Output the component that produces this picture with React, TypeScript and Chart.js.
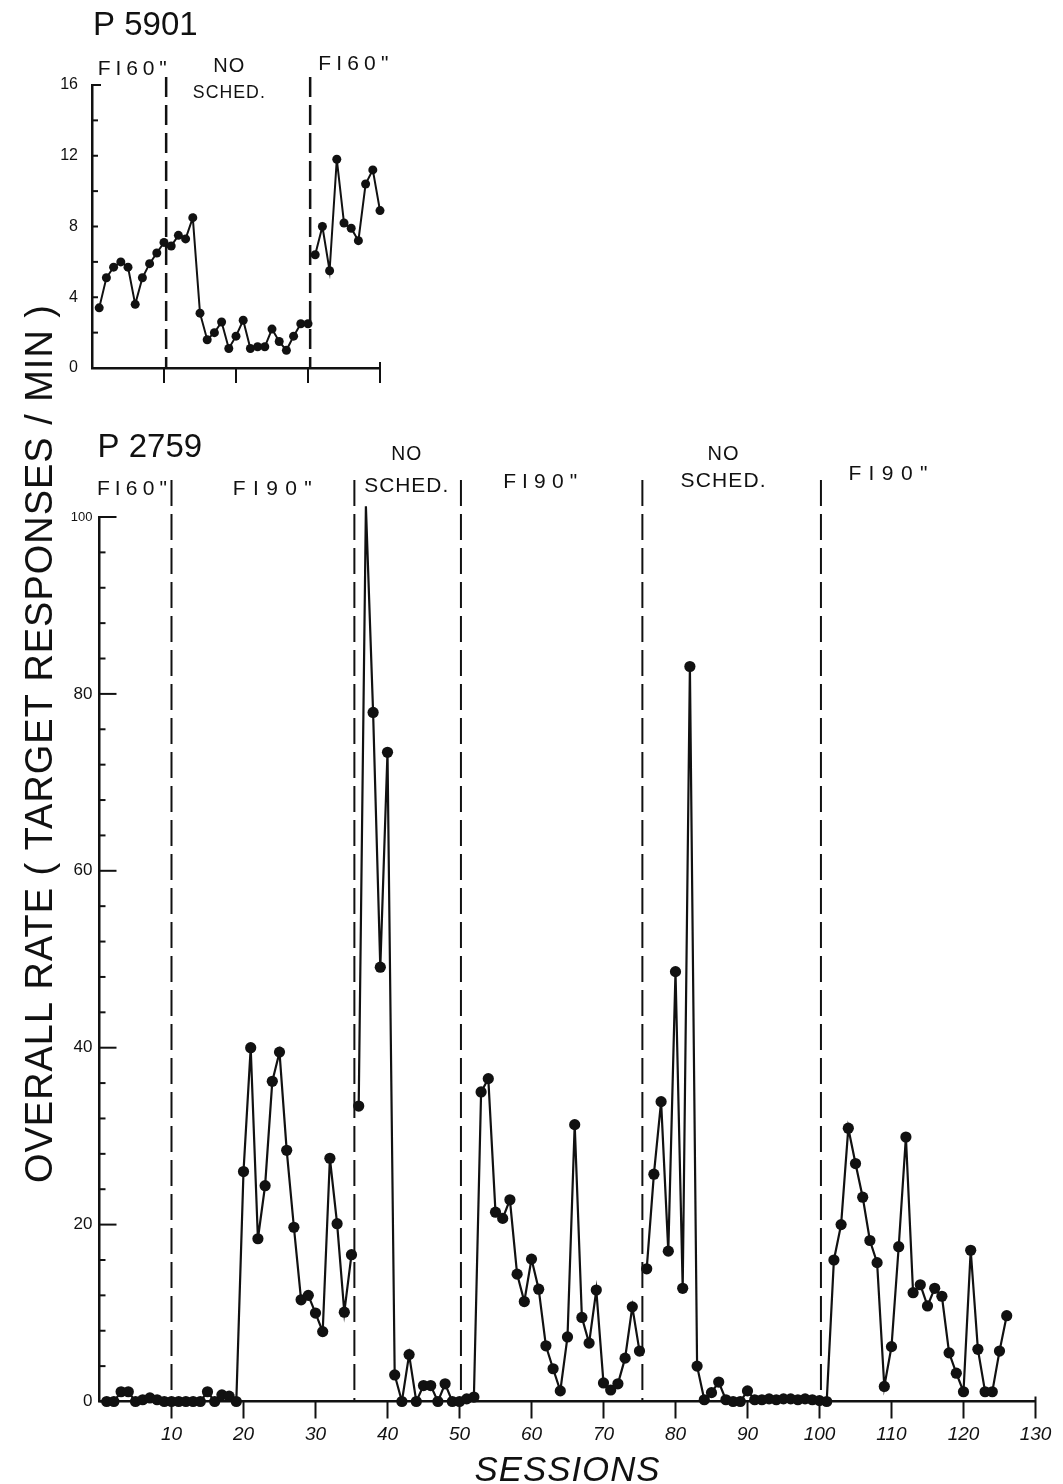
import React, { useEffect, useRef } from "react";
import Chart from "chart.js/auto";

const FONT = "'Liberation Sans', Arial, sans-serif";
const INK = "#111";

// ---- P 5901 (upper panel), sessions 1-40 ----
const p5901Rate = [
  3.4, 5.1, 5.7, 6.0, 5.7, 3.6, 5.1, 5.9, 6.5, 7.1,
  6.9, 7.5, 7.3, 8.5, 3.1, 1.6, 2.0, 2.6, 1.1, 1.8,
  2.7, 1.1, 1.2, 1.2, 2.2, 1.5, 1.0, 1.8, 2.5, 2.5,
  6.4, 8.0, 5.5, 11.8, 8.2, 7.9, 7.2, 10.4, 11.2, 8.9,
];
const p5901Phases = ['FI60"', "NO SCHED.", 'FI60"'];
const p5901PhaseBounds = [10.3, 30.3];
const p5901Breaks = [30];
const p5901YLabels = [0, 4, 8, 12, 16];
const p5901XTicks = [10, 20, 30, 40];

// ---- P 2759 (lower panel), sessions 1-126 ----
const p2759Rate = [
  0, 0, 1.1, 1.1, 0, 0.2, 0.4, 0.2, 0, 0,
  0, 0, 0, 0, 1.1, 0, 0.75, 0.6, 0, 26.0,
  40.0, 18.4, 24.4, 36.2, 39.5, 28.4, 19.7, 11.5, 12.0, 10.0,
  7.9, 27.5, 20.1, 10.1, 16.6, 33.4, 101.2, 77.9, 49.1, 73.4,
  3.0, 0, 5.3, 0, 1.8, 1.8, 0, 2.0, 0, 0,
  0.3, 0.5, 35.0, 36.5, 21.4, 20.7, 22.8, 14.4, 11.3, 16.1,
  12.7, 6.3, 3.7, 1.2, 7.3, 31.3, 9.5, 6.6, 12.6, 2.1,
  1.3, 2.0, 4.9, 10.7, 5.7, 15.0, 25.7, 33.9, 17.0, 48.6,
  12.8, 83.1, 4.0, 0.2, 1.0, 2.2, 0.2, 0, 0, 1.2,
  0.2, 0.2, 0.3, 0.2, 0.3, 0.3, 0.2, 0.3, 0.2, 0.1,
  0, 16.0, 20.0, 30.9, 26.9, 23.1, 18.2, 15.7, 1.7, 6.2,
  17.5, 29.9, 12.3, 13.2, 10.8, 12.8, 11.9, 5.5, 3.2, 1.1,
  17.1, 5.9, 1.1, 1.1, 5.7, 9.7,
];
const p2759Phases = ['FI60"', 'FI90"', "NO SCHED.", 'FI90"', "NO SCHED.", 'FI90"'];
const p2759PhaseBounds = [10, 35.4, 50.2, 75.4, 100.2];
const p2759Breaks = [35, 75];
const p2759YLabels = [0, 20, 40, 60, 80, 100];
const p2759XTicks = [10, 20, 30, 40, 50, 60, 70, 80, 90, 100, 110, 120, 130];

// caption placement per phase: session centre, baseline offset from plot top, line gap, line widths
const p5901CaptionLayout = [
  { at: 5.6, dy: -10, gap: 0, widths: [69] },
  { at: 19.0, dy: 13, gap: 26, widths: [31, 72] },
  { at: 36.3, dy: -15, gap: 0, widths: [70] },
];
const p2759CaptionLayout = [
  { at: 4.5, dy: -22, gap: 0, widths: [70] },
  { at: 24.0, dy: -22, gap: 0, widths: [79] },
  { at: 42.6, dy: -25, gap: 32, widths: [30, 84] },
  { at: 61.2, dy: -29, gap: 0, widths: [74] },
  { at: 86.6, dy: -30, gap: 27, widths: [31, 85] },
  { at: 109.5, dy: -37, gap: 0, widths: [79] },
];

function toPoints(values: number[], breaks: number[]) {
  const pts: { x: number; y: number | null }[] = [];
  values.forEach((v, i) => {
    const s = i + 1;
    pts.push({ x: s, y: v });
    if (breaks.includes(s)) pts.push({ x: s + 0.5, y: null });
  });
  return pts;
}

// text stretched to a given width; shrinks the font if it would not fit
function spaced(ctx: CanvasRenderingContext2D, text: string, cx: number, y: number, width: number, size: number, style = "") {
  ctx.save();
  ctx.fillStyle = INK;
  ctx.textAlign = "left";
  ctx.textBaseline = "alphabetic";
  const n = Math.max(text.length - 1, 1);
  let fs = size;
  ctx.font = `${style} ${fs}px ${FONT}`;
  let plain = ctx.measureText(text).width;
  if (plain > width - n) {
    fs = (fs * (width - n)) / plain;
    ctx.font = `${style} ${fs}px ${FONT}`;
    plain = ctx.measureText(text).width;
  }
  const gap = text.length > 1 ? (width - plain) / (text.length - 1) : 0;
  (ctx as any).letterSpacing = `${gap}px`;
  ctx.fillText(text, cx - width / 2, y);
  ctx.restore();
}

function line(ctx: CanvasRenderingContext2D, x1: number, y1: number, x2: number, y2: number) {
  ctx.beginPath();
  ctx.moveTo(x1, y1);
  ctx.lineTo(x2, y2);
  ctx.stroke();
}

function drawCaptions(chart: any, names: string[], layout: any[], size: number) {
  const { ctx, chartArea: a, scales } = chart;
  names.forEach((name, i) => {
    const lay = layout[i];
    const parts = name.split(" ");
    const cx = scales.x.getPixelForValue(lay.at);
    parts.forEach((p, j) => {
      const y = a.top + lay.dy - (parts.length - 1 - j) * lay.gap;
      spaced(ctx, p, cx, y, lay.widths[j], size);
    });
  });
}

const axisGrid = { display: true, drawOnChartArea: false, drawTicks: false };

const App: React.FC = () => {
  const topRef = useRef<HTMLCanvasElement | null>(null);
  const bottomRef = useRef<HTMLCanvasElement | null>(null);

  useEffect(() => {
    if (!topRef.current || !bottomRef.current) return;
    const topCtx = topRef.current.getContext("2d");
    const bottomCtx = bottomRef.current.getContext("2d");
    if (!topCtx || !bottomCtx) return;

    const bottomFrame = {
      id: "p2759Frame",
      beforeDatasetsDraw(chart: any) {
        const { ctx, chartArea: a, scales: { x, y } } = chart;
        ctx.save();
        ctx.strokeStyle = INK;
        ctx.lineWidth = 2;
        ctx.setLineDash([26, 8]);
        p2759PhaseBounds.forEach((b) => {
          const px = x.getPixelForValue(b);
          line(ctx, px, a.top - 37, px, a.bottom);
        });
        ctx.setLineDash([]);
        for (let v = 0; v <= 100; v += 4) {
          const py = y.getPixelForValue(v);
          line(ctx, a.left, py, a.left + (v % 20 === 0 ? 17 : 6), py);
        }
        p2759XTicks.forEach((v) => {
          const px = x.getPixelForValue(v);
          line(ctx, px, a.bottom - (v === 130 ? 5 : 0), px, a.bottom + 17);
        });
        ctx.restore();
      },
      afterDraw(chart: any) {
        const { ctx, chartArea: a } = chart;
        ctx.save();
        ctx.fillStyle = INK;
        ctx.font = `33px ${FONT}`;
        ctx.textBaseline = "alphabetic";
        ctx.fillText("P 2759", a.left - 2, a.top - 60);
        ctx.restore();
        drawCaptions(chart, p2759Phases, p2759CaptionLayout, 21);
        spaced(ctx, "SESSIONS", 567, 1481, 185, 35, "italic");
        ctx.save();
        ctx.translate(52, 744);
        ctx.rotate(-Math.PI / 2);
        spaced(ctx, "OVERALL RATE ( TARGET RESPONSES / MIN )", 0, 0, 878, 38);
        ctx.restore();
      },
    };

    const topFrame = {
      id: "p5901Frame",
      beforeDatasetsDraw(chart: any) {
        const { ctx, chartArea: a, scales: { x, y } } = chart;
        ctx.save();
        ctx.strokeStyle = INK;
        ctx.lineWidth = 2.5;
        ctx.setLineDash([20, 8]);
        p5901PhaseBounds.forEach((b) => {
          const px = x.getPixelForValue(b);
          line(ctx, px, a.top - 8, px, a.bottom);
        });
        ctx.setLineDash([]);
        ctx.lineWidth = 2;
        for (let v = 2; v <= 16; v += 2) {
          const py = y.getPixelForValue(v);
          line(ctx, a.left, py, a.left + (v === 16 ? 9 : 6), py);
        }
        p5901XTicks.forEach((v) => {
          const px = x.getPixelForValue(v);
          line(ctx, px, a.bottom - (v === 40 ? 6 : 0), px, a.bottom + 15);
        });
        ctx.restore();
      },
      afterDraw(chart: any) {
        const { ctx, chartArea: a } = chart;
        ctx.save();
        ctx.fillStyle = INK;
        ctx.font = `33px ${FONT}`;
        ctx.textBaseline = "alphabetic";
        ctx.fillText("P 5901", a.left + 1, a.top - 50);
        ctx.restore();
        drawCaptions(chart, p5901Phases, p5901CaptionLayout, 21);
      },
    };

    const bottomChart = new Chart(bottomCtx, {
      type: "line",
      data: {
        datasets: [
          {
            label: "P 2759",
            data: toPoints(p2759Rate, p2759Breaks),
            borderColor: INK,
            backgroundColor: INK,
            borderWidth: 2.2,
            pointRadius: 5.6,
            pointBorderWidth: 0,
            pointBackgroundColor: INK,
            tension: 0,
            spanGaps: false,
            clip: false,
          },
        ],
      },
      options: {
        responsive: false,
        animation: false,
        events: [],
        layout: { padding: { left: 39.5, right: 27.5, top: 517, bottom: 42.5 } },
        plugins: { legend: { display: false }, tooltip: { enabled: false } },
        scales: {
          x: {
            type: "linear",
            min: 0,
            max: 130,
            afterFit: (s: any) => { s.height = 40; },
            afterBuildTicks: (s: any) => { s.ticks = p2759XTicks.map((v) => ({ value: v })); },
            // invisible tick marks only push the labels down (real marks come from the plugin)
            grid: { display: true, drawOnChartArea: false, drawTicks: true, tickLength: 16, tickColor: "rgba(0,0,0,0)" },
            border: { display: true, color: INK, width: 2.5 },
            ticks: { padding: 6, maxRotation: 0, autoSkip: false, color: INK, font: { family: FONT, size: 19, style: "italic" } },
          },
          y: {
            type: "linear",
            min: 0,
            max: 100,
            afterFit: (s: any) => { s.width = 60; },
            afterBuildTicks: (s: any) => { s.ticks = p2759YLabels.map((v) => ({ value: v })); },
            grid: axisGrid,
            border: { display: true, color: INK, width: 2.5 },
            ticks: {
              padding: 7,
              color: INK,
              font: (c: any) => ({ family: FONT, size: c.tick && c.tick.value === 100 ? 13 : 17 }),
            },
          },
        },
      },
      plugins: [bottomFrame],
    } as any);

    const topChart = new Chart(topCtx, {
      type: "line",
      data: {
        datasets: [
          {
            label: "P 5901",
            data: toPoints(p5901Rate, p5901Breaks),
            borderColor: INK,
            backgroundColor: INK,
            borderWidth: 2,
            pointRadius: 4.5,
            pointBorderWidth: 0,
            pointBackgroundColor: INK,
            tension: 0,
            spanGaps: false,
            clip: false,
          },
        ],
      },
      options: {
        responsive: false,
        animation: false,
        events: [],
        layout: { padding: { left: 42, right: 40, top: 85, bottom: 12 } },
        plugins: { legend: { display: false }, tooltip: { enabled: false } },
        scales: {
          x: {
            type: "linear",
            min: 0,
            max: 40,
            afterFit: (s: any) => { s.height = 20; },
            grid: axisGrid,
            border: { display: true, color: INK, width: 2.5 },
            ticks: { display: false },
          },
          y: {
            type: "linear",
            min: 0,
            max: 16,
            afterFit: (s: any) => { s.width = 50; },
            afterBuildTicks: (s: any) => { s.ticks = p5901YLabels.map((v) => ({ value: v })); },
            grid: axisGrid,
            border: { display: true, color: INK, width: 2.5 },
            ticks: { padding: 14, color: INK, font: { family: FONT, size: 16 } },
          },
        },
      },
      plugins: [topFrame],
    } as any);

    return () => {
      topChart.destroy();
      bottomChart.destroy();
    };
  }, []);

  return (
    <div style={{ position: "absolute", left: 0, top: 0, width: 1063, height: 1484, background: "#fff" }}>
      <canvas ref={bottomRef} width={1063} height={1484} style={{ position: "absolute", left: 0, top: 0 }} />
      <canvas ref={topRef} width={420} height={400} style={{ position: "absolute", left: 0, top: 0 }} />
    </div>
  );
};

export default App;
